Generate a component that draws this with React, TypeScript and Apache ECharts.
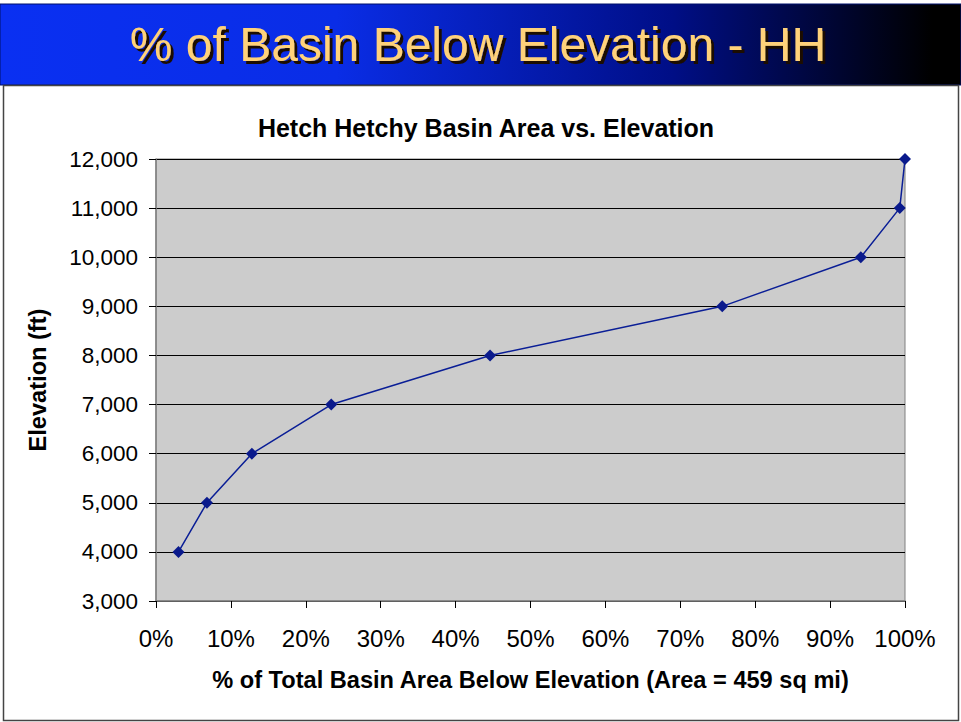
import React, { useEffect, useRef } from "react";
import * as echarts from "echarts";

const pctBelow: number[] = [3.0, 6.8, 12.8, 23.4, 44.6, 75.6, 94.1, 99.3, 100];
const elevations: number[] = [4000, 5000, 6000, 7000, 8000, 9000, 10000, 11000, 12000];
const slideTitle = "% of Basin Below Elevation - HH";
const chartTitle = "Hetch Hetchy Basin Area vs. Elevation";
const xTitle = "% of Total Basin Area Below Elevation (Area = 459 sq mi)";
const yTitle = "Elevation (ft)";

const FONT = "'Liberation Sans', Arial, sans-serif";

export default function App() {
  const ref = useRef<HTMLDivElement>(null);
  useEffect(() => {
    if (!ref.current) return;
    const chart = echarts.init(ref.current, undefined, { renderer: "svg" });
    const data = pctBelow.map((p, i) => [p, elevations[i]]);
    chart.setOption({
      animation: false,
      backgroundColor: "#ffffff",
      title: {
        text: chartTitle,
        left: 481,
        top: 110,
        textAlign: "center",
        textStyle: { fontFamily: FONT, fontWeight: "bold", fontSize: 25, color: "#000" },
      },
      graphic: [
        {
          type: "rect",
          shape: { x: 0, y: 4, width: 961, height: 81 },
          style: {
            fill: new echarts.graphic.LinearGradient(0, 0, 1, 0, [
              { offset: 0, color: "#0A30F2" },
              { offset: 0.35, color: "#0A2DE6" },
              { offset: 0.7, color: "#000E86" },
              { offset: 0.97, color: "#000000" },
              { offset: 1, color: "#000000" },
            ]),
            stroke: "#00106A",
            lineWidth: 1,
          },
          z: 0,
        },
        {
          type: "rect",
          shape: { x: 3.5, y: 85.5, width: 955, height: 635 },
          style: { fill: "none", stroke: "#444", lineWidth: 1.5 },
          z: 0,
        },
        {
          type: "text",
          x: 478,
          y: 44,
          style: {
            text: slideTitle,
            fontFamily: FONT,
            fontSize: 48,
            fill: "#FFD27A",
            align: "center",
            verticalAlign: "middle",
            textShadowColor: "#1a1000",
            textShadowOffsetX: 3,
            textShadowOffsetY: 3,
            textShadowBlur: 0.5,
          },
          z: 2,
        },
      ],
      grid: {
        left: 156,
        top: 159,
        right: 56,
        bottom: 121,
        show: true,
        backgroundColor: "#CCCCCC",
        borderColor: "#808080",
        borderWidth: 1,
      },
      xAxis: {
        type: "value",
        min: 0,
        max: 100,
        interval: 10,
        name: xTitle,
        nameLocation: "middle",
        nameGap: 67,
        nameTextStyle: { fontFamily: FONT, fontWeight: "bold", fontSize: 23.6, color: "#000" },
        axisLine: { show: true, lineStyle: { color: "#808080", width: 1.5 } },
        axisTick: { show: true, length: 7, lineStyle: { color: "#000" } },
        axisLabel: {
          formatter: "{value}%",
          fontFamily: FONT,
          fontSize: 24,
          color: "#000",
          margin: 25,
        },
        splitLine: { show: false },
      },
      yAxis: {
        type: "value",
        min: 3000,
        max: 12000,
        interval: 1000,
        name: yTitle,
        nameLocation: "middle",
        nameGap: 106,
        nameTextStyle: { fontFamily: FONT, fontWeight: "bold", fontSize: 23.6, color: "#000" },
        axisLine: { show: true, lineStyle: { color: "#808080", width: 1.5 } },
        axisTick: { show: true, length: 7, lineStyle: { color: "#000" } },
        axisLabel: {
          formatter: (v: number) => v.toLocaleString("en-US"),
          fontFamily: FONT,
          fontSize: 22.5,
          color: "#000",
          margin: 18,
        },
        splitLine: { show: true, lineStyle: { color: "#000", width: 1 } },
      },
      series: [
        {
          type: "line",
          data,
          symbol: "diamond",
          symbolSize: 12,
          itemStyle: { color: "#0A1A8C" },
          lineStyle: { color: "#0A1E96", width: 1.5 },
        },
      ],
    });
    return () => chart.dispose();
  }, []);
  return (
    <div
      ref={ref}
      style={{ position: "fixed", left: 0, top: 0, width: 961, height: 722 }}
    />
  );
}
